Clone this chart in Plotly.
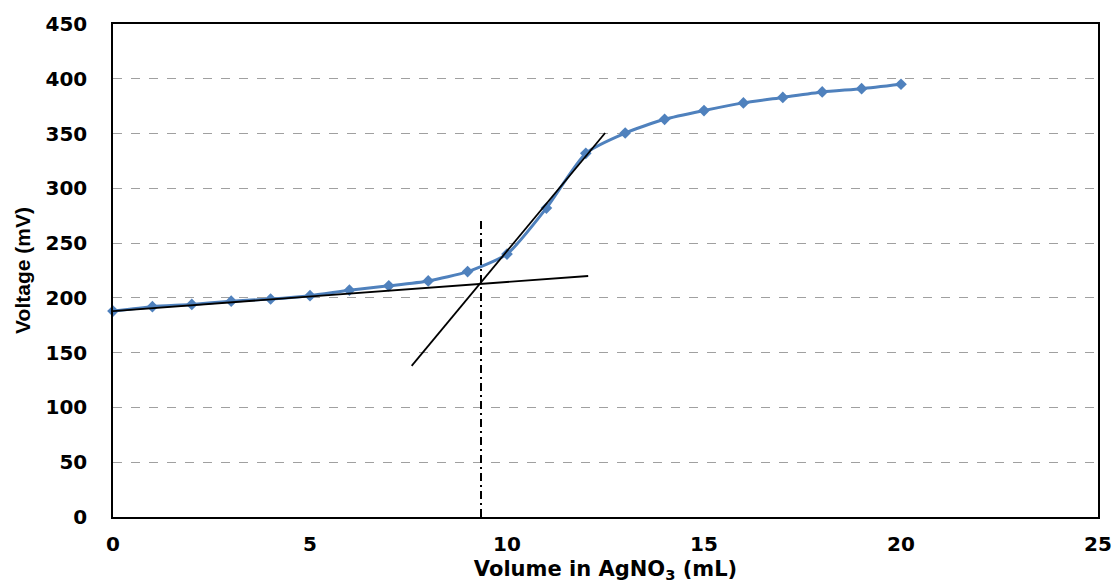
import plotly.graph_objects as go

volume = [0, 1, 2, 3, 4, 5, 6, 7, 8, 9, 10, 11, 12, 13, 14, 15, 16, 17, 18, 19, 20]
voltage = [188, 192, 194, 197, 199, 202, 207, 211, 215.5, 224, 240, 282, 332, 350.5, 363, 371, 378, 383, 388, 391, 395]

tangent1_x = [0, 12.06]
tangent1_y = [188, 220]
tangent2_x = [7.58, 12.49]
tangent2_y = [138, 350.5]
endpoint_x = [9.34, 9.34]
endpoint_y = [0, 273]

x_ticks = [0, 5, 10, 15, 20, 25]
y_ticks = [0, 50, 100, 150, 200, 250, 300, 350, 400, 450]

fig = go.Figure()
fig.add_trace(go.Scatter(
    x=volume, y=voltage, mode="lines+markers",
    line=dict(color="#4F81BD", width=3, shape="spline", smoothing=0.6),
    marker=dict(symbol="diamond", size=9, color="#4F81BD"),
    showlegend=False, cliponaxis=False))
fig.add_trace(go.Scatter(x=tangent1_x, y=tangent1_y, mode="lines",
                         line=dict(color="black", width=1.8), showlegend=False))
fig.add_trace(go.Scatter(x=tangent2_x, y=tangent2_y, mode="lines",
                         line=dict(color="black", width=1.8), showlegend=False))
fig.add_trace(go.Scatter(x=endpoint_x, y=endpoint_y, mode="lines",
                         line=dict(color="black", width=2, dash="8px,4px,2px,4px"), showlegend=False))

tick_font = dict(family="DejaVu Sans", size=20, color="black", weight="bold")

fig.update_layout(
    width=1117, height=583,
    margin=dict(l=113, r=19, t=24, b=66, autoexpand=False),
    paper_bgcolor="white", plot_bgcolor="white",
    xaxis=dict(range=[0, 25], tickvals=x_ticks, showgrid=False, zeroline=False,
               showline=True, linecolor="black", linewidth=1.5, mirror=True,
               ticks="", tickfont=tick_font, ticklabelstandoff=8, automargin=False,
               title=dict(text="Volume in AgNO<sub>3</sub> (mL)",
                          font=dict(family="DejaVu Sans", size=21, color="black", weight="bold"),
                          standoff=9)),
    yaxis=dict(range=[0, 450], tickvals=y_ticks, showgrid=True, gridcolor="#A0A0A0",
               griddash="dash", gridwidth=1, zeroline=False,
               showline=True, linecolor="black", linewidth=1.5, mirror=True,
               ticks="", tickfont=tick_font, ticklabelstandoff=20, automargin=False,
               title=dict(text="Voltage (mV)",
                          font=dict(family="Liberation Sans Narrow, Liberation Sans", size=21, color="black", weight="bold"),
                          standoff=9)),
)

fig.write_html("out.html", config={"displayModeBar": False},
               post_script="document.body.style.margin='0';document.body.style.overflow='hidden';")
